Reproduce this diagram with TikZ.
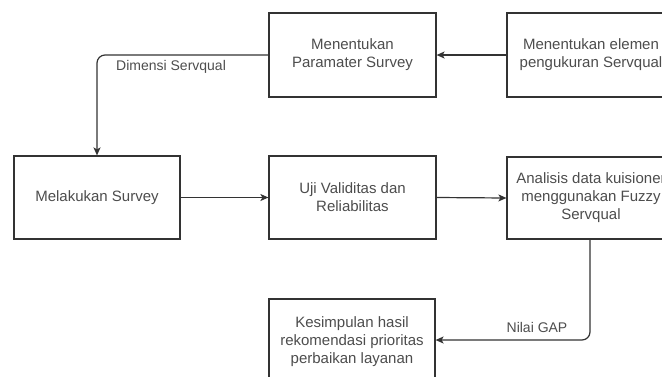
\documentclass[tikz,border=0pt]{standalone}
\usepackage{fontspec}
\setmainfont{Liberation Sans}
\usetikzlibrary{arrows.meta}
\definecolor{linec}{HTML}{333333}
\definecolor{textc}{HTML}{4D4D4D}
\tikzset{
  box/.style={draw=linec, line width=1.2pt, fill=white, inner sep=0pt, align=center,
    text=textc, font=\fontsize{15}{18}\selectfont},
  conn/.style={draw=linec, line width=1.2pt, rounded corners=8pt,
    -{Stealth[length=8pt,width=7pt,inset=2pt]}},
  lbl/.style={text=textc, font=\fontsize{14}{17}\selectfont, inner sep=0pt}
}
\begin{document}
\begin{tikzpicture}[x=1pt,y=-1pt]
\useasboundingbox (0,0) rectangle (662,376);
\clip (0,0) rectangle (662,376);
% boxes
\node[box, minimum width=167pt, minimum height=84pt] (A) at (352.5,55) {Menentukan\\Paramater Survey};
\node[box, minimum width=168pt, minimum height=84pt] (B) at (591,55) {Menentukan elemen\\pengukuran Servqual};
\node[box, minimum width=166pt, minimum height=83pt] (C) at (97,197.5) {Melakukan Survey};
\node[box, minimum width=167pt, minimum height=83pt] (D) at (352.5,197.5) {Uji Validitas dan\\Reliabilitas};
\node[box, minimum width=168pt, minimum height=82pt] (E) at (591,198) {Analisis data kuisioner\\menggunakan Fuzzy\\Servqual};
\node[box, minimum width=166pt, minimum height=85pt] (F) at (352,341.5) {Kesimpulan hasil\\rekomendasi prioritas\\perbaikan layanan};
% connectors
\draw[conn] (B.west) -- (A.east);
\coordinate (c1) at (97,55);
\draw[conn] (A.west) -- (c1) -- (C.north);
\node[lbl, anchor=west] (l1) at (116,67) {Dimensi Servqual};
\draw[conn] (C.east) -- (D.west);
\draw[conn] (D.east) -- (E.west);
\coordinate (c2) at (590,340);
\draw[conn] (E.south -| c2) -- (c2) -- (F.east |- c2);
\node[lbl] (l2) at (537,327) {Nilai GAP};
\end{tikzpicture}
\end{document}
